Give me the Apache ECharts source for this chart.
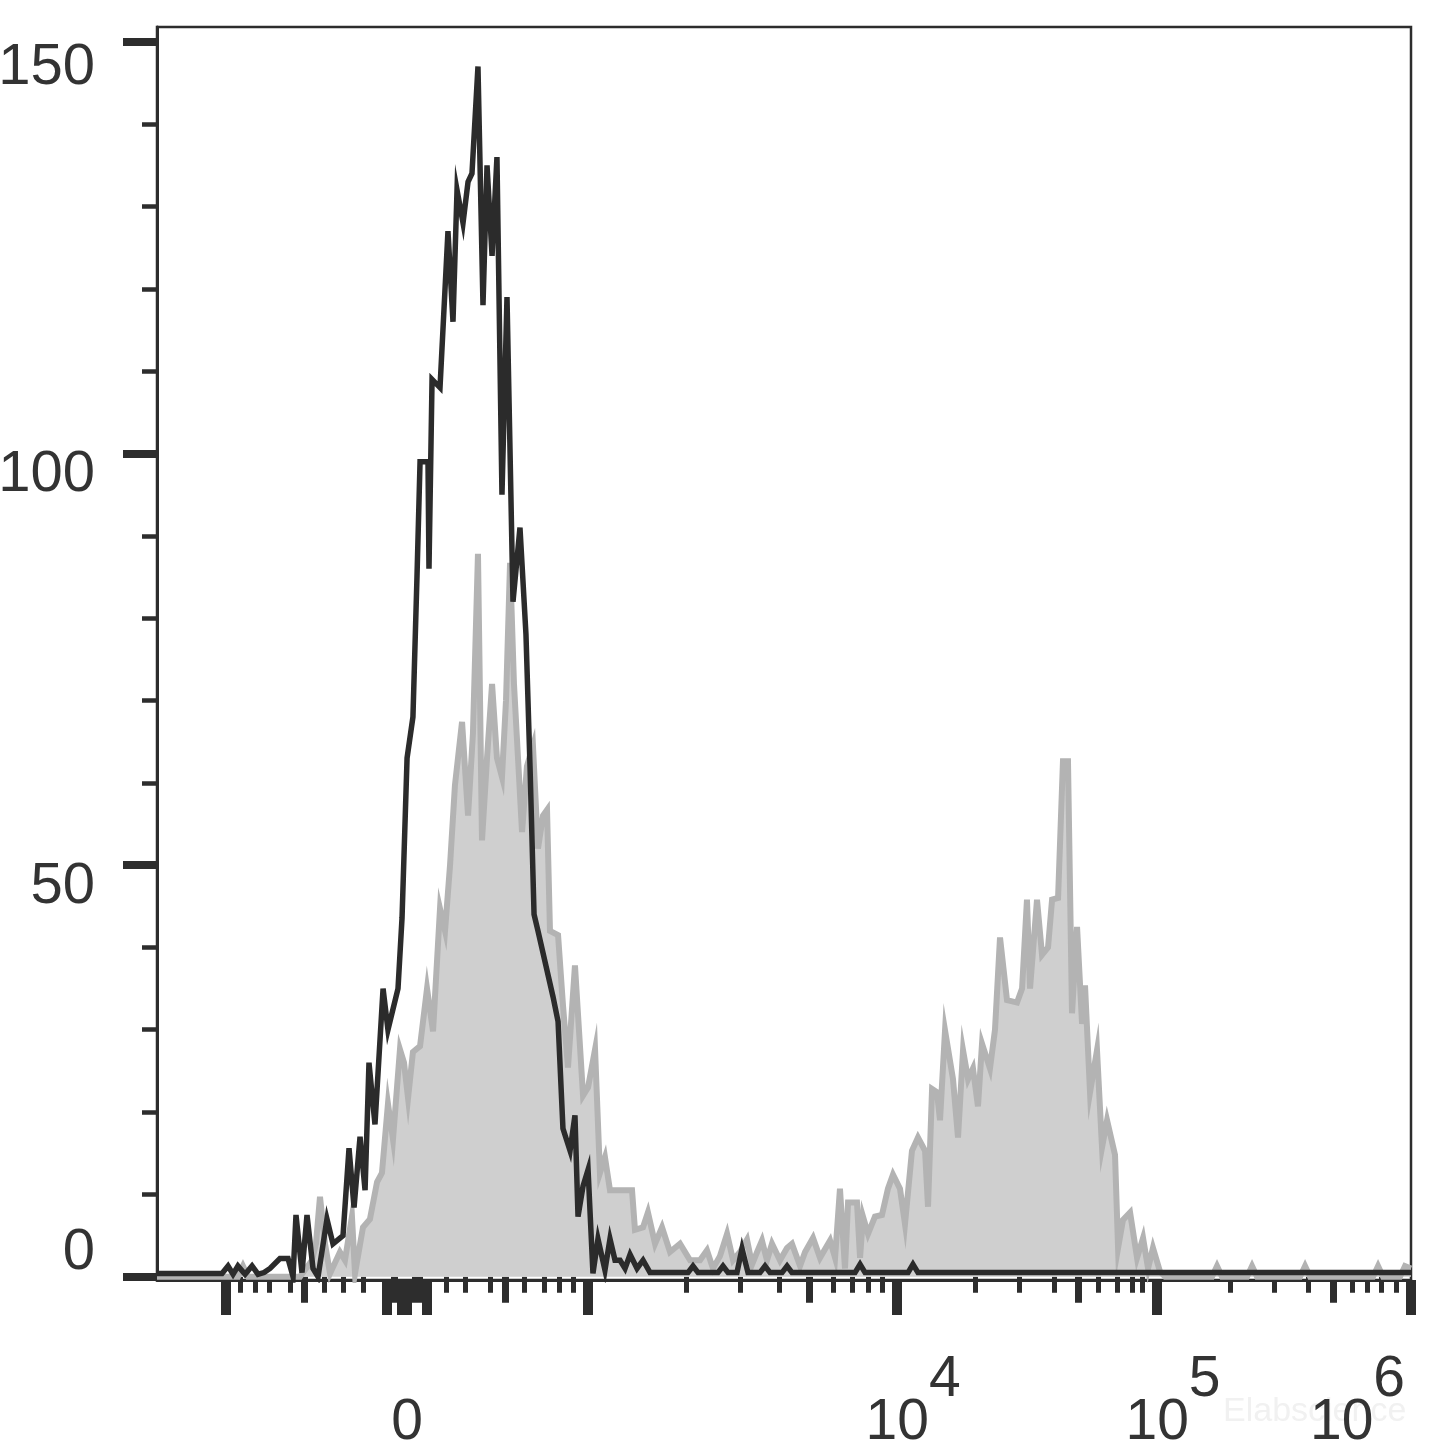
<!DOCTYPE html>
<html><head><meta charset="utf-8">
<script src="https://cdn.jsdelivr.net/npm/echarts@6/dist/echarts.min.js"></script>
<style>html,body{margin:0;padding:0;background:#fff}#chart{width:1445px;height:1453px}</style>
</head><body><div id="chart"></div>
<script>
// Display channel (0..1024 on biexponential scale) and event counts
const grayX = [0,66.1,70.2,74.3,116.8,126.6,129.8,133.1,137.2,141.3,149.4,153.5,159.2,161.7,168.2,173.9,179.7,183.7,188.6,192.7,198.4,201.7,205.0,209.0,214.8,220.5,225.4,231.1,235.2,239.3,243.3,249.1,254.0,258.0,262.1,265.4,269.5,273.6,277.6,281.7,285.0,288.3,291.5,294.8,298.1,302.1,307.0,311.1,315.2,318.5,320.9,327.5,331.5,335.6,341.3,345.4,347.9,352.0,357.7,361.7,365.8,369.9,387.9,390.3,396.9,400.9,406.7,412.4,418.9,427.1,435.3,443.4,449.1,454.0,459.7,465.5,470.4,476.1,481.8,485.9,490.0,494.0,498.1,502.2,508.7,514.5,518.5,525.1,529.2,535.7,541.4,549.6,553.7,557.7,561.8,564.3,571.6,574.1,576.5,580.6,586.3,592.0,596.9,601.0,606.7,610.8,616.5,621.4,627.2,629.6,632.9,636.9,639.4,643.5,650.0,654.1,658.2,662.3,666.3,670.4,673.7,680.2,684.3,688.4,694.1,702.3,706.4,710.4,712.9,718.6,722.7,727.6,730.9,735.8,739.8,743.9,747.2,751.3,755.4,757.8,761.9,767.6,771.7,775.8,782.3,784.8,788.8,794.6,800.3,805.2,809.3,813.3,819.1,823.2,861.5,865.6,869.7,890.1,894.2,898.3,933.4,937.5,941.6,993.0,997.1,1001.2,1015.0,1019.1,1024];
const grayY = [0,0,1.3,0,0,2,4,9.7,4,0.4,3,2,7.3,0.4,6,7,11.5,12.6,21,16.7,27.6,26,21.7,27.3,28,35,29.8,44.7,42,50,59.7,67.4,56,66,87.8,53,63,72,63,60.7,70,86.7,72,63,54,62,64.5,52,56,56.7,42,41.5,33,25.4,37.8,28,22,23,27.6,12.6,14.5,10.5,10.5,5.7,6,7.8,4,6,3,4,2,2,3.2,1,2.5,5.2,2,3,4.5,1.5,3,4.4,2,4,2,3.5,4,1.3,3,4.7,2.3,4.4,2.3,10.7,1,9,9,2.3,7.3,5.2,7.3,7.5,10.7,12.4,10.7,6.4,15.3,16.9,15.3,8.5,22.8,22.4,19,29.9,24,16.9,27.5,24,25.3,20.7,28.3,25.3,30,41.2,33.6,33.3,35,45.8,35,45.8,39.1,40,45.8,46,62.6,62.6,32,42.5,30.7,35.4,22.4,27.5,15.7,19,14.8,3.5,6.9,7.8,2.3,4.7,1,3.5,0.6,0,0,1.3,0,0,1.3,0,0,1.3,0,0,1.3,0,0,1.3,1];

const blackX = [0,53.1,58.0,62.1,66.1,71.9,77.6,82.5,87.4,92.3,100.4,107.0,111.1,113.5,118.4,122.5,127.4,131.5,138.8,143.7,151.9,156.8,160.9,165.8,169.9,173.1,178.0,184.6,188.6,196.8,200.1,204.2,209.0,212.3,214.8,221.3,222.1,224.6,231.1,237.6,241.7,245.0,249.9,254.0,257.2,262.1,266.2,269.5,273.6,277.6,281.7,285.8,290.7,296.4,301.3,304.6,307.9,311.1,323.4,327.5,331.5,337.3,341.3,343.8,347.9,352.0,356.0,360.1,365.8,369.9,374.0,378.1,382.2,386.3,392.0,396.9,402.6,433.6,437.7,441.8,458.1,462.2,466.3,473.6,477.7,482.6,492.4,496.5,500.6,510.4,514.5,518.5,570.0,574.1,578.2,613.3,617.3,621.4,1024];
const blackY = [0.4,0.4,1.3,0.3,1.3,0.3,1.3,0.3,0.5,1,2.2,2.2,0,7.5,0.5,7.5,1,0,7,4,5,15.6,8.4,17,10.5,26,18.5,35,30,35,43.6,63,68,85,99,99,86,109,108,127,116,132,128,133,134,147,118,135,124,136,95,119,82,91,78,62,44,42,34,31,18,15.3,19.6,7.3,11,13,0.4,4.6,0.8,4.6,2,2,1,2.7,1,2,0.5,0.5,1.3,0.5,0.5,1.3,0.5,0.5,3.4,0.5,0.5,1.3,0.5,0.5,1.3,0.5,0.5,1.5,0.5,0.5,1.5,0.5,0.5];

const yMajorTicks = [0, 50, 100, 150];
const yMinorTicks = [10, 20, 30, 40, 60, 70, 80, 90, 110, 120, 130, 140];
const xMajorTicks = [56.3, 187.8, 200.1, 204.2, 220.5, 352.0, 604.3, 816.6, 1024];
const xMediumTicks = [120.0, 193.5, 210.7, 213.9, 284.2, 532.4, 752.1, 960.3];
const xMinorTicks = [67.8, 80.0, 91.5, 108.6, 136.4, 151.9, 168.2, 236.0, 251.5, 271.9, 299.7, 316.0, 328.3, 339.7, 432.0, 476.1, 507.9, 552.0, 567.5, 580.6, 592.0, 668.0, 703.9, 732.5, 768.4, 783.9, 796.2, 804.3, 876.2, 912.1, 939.9, 975.8, 988.1, 999.5, 1011.8];
const xLabelValues = [204.2, 604.3, 816.6, 1024];
const xLabelBase = ['0', '10', '10', '10'];
const xLabelExp = ['', '4', '5', '6'];

const FONT = "'Liberation Sans', Arial, Helvetica, sans-serif";
const INK = '#2d2d2d';
const TXT = '#333333';
const X_MIN = 0, X_MAX = 1024, Y_MIN = -0.4, Y_MAX = 151.8;

function xAxisBase(ticks, len, width) {
  return {
    type: 'value', gridIndex: 0, position: 'bottom', min: X_MIN, max: X_MAX,
    axisLine: { show: false }, splitLine: { show: false },
    axisTick: { show: true, customValues: ticks, length: len, inside: false, lineStyle: { color: INK, width: width } },
    axisLabel: { show: false }
  };
}
const xMain = xAxisBase(xMajorTicks, 35, 10);
xMain.axisLine = { show: true, onZero: false, lineStyle: { color: INK, width: 3 } };
xMain.axisLabel = {
  show: true, customValues: xLabelValues, margin: 71.5, color: TXT, fontFamily: FONT,
  formatter: function (v) {
    const i = xLabelValues.findIndex(t => Math.abs(t - v) < 0.01);
    if (i < 0) return '';
    if (!xLabelExp[i]) return '{b|' + xLabelBase[i] + '}';
    if (i === xLabelValues.length - 1) return '{b|' + xLabelBase[i] + '}{se|' + xLabelExp[i] + '}';
    return '{bp|' + xLabelBase[i] + '}{s|' + xLabelExp[i] + '}';
  },
  rich: {
    b: { fontSize: 57, lineHeight: 144, color: TXT, fontFamily: FONT },
    bp: { fontSize: 57, lineHeight: 144, color: TXT, fontFamily: FONT, padding: [0, 0, 0, 32] },
    s: { fontSize: 57, lineHeight: 15, verticalAlign: 'top', color: TXT, fontFamily: FONT },
    se: { fontSize: 57, lineHeight: 15, verticalAlign: 'top', color: TXT, fontFamily: FONT, padding: [0, 107, 0, 0] }
  }
};

const option = {
  animation: false,
  backgroundColor: '#ffffff',
  grid: { left: 157, right: 34, top: 27, bottom: 173, show: true, borderColor: INK, borderWidth: 2.5, backgroundColor: 'transparent', containLabel: false, outerBoundsMode: 'none' },
  xAxis: [xMain, xAxisBase(xMediumTicks, 26, 7), xAxisBase(xMinorTicks, 16, 5)],
  yAxis: [
    {
      type: 'value', position: 'left', min: Y_MIN, max: Y_MAX,
      axisLine: { show: true, onZero: false, lineStyle: { color: INK, width: 3 } },
      splitLine: { show: false },
      axisTick: { show: true, customValues: yMajorTicks, length: 34, lineStyle: { color: INK, width: 8 } },
      axisLabel: {
        show: true, customValues: yMajorTicks, margin: 62, color: TXT, fontFamily: FONT,
        formatter: function (v) {
          if (v === 150) return '{t|' + v + '}';
          if (v === 0) return '{z|' + v + '}';
          return '{m|' + v + '}';
        },
        rich: {
          t: { fontSize: 58, color: TXT, fontFamily: FONT, padding: [52, 0, 0, 0] },
          m: { fontSize: 58, color: TXT, fontFamily: FONT, padding: [43, 0, 0, 0] },
          z: { fontSize: 58, color: TXT, fontFamily: FONT, padding: [0, 0, 48, 0] }
        }
      }
    },
    {
      type: 'value', position: 'left', min: Y_MIN, max: Y_MAX,
      axisLine: { show: false }, splitLine: { show: false },
      axisTick: { show: true, customValues: yMinorTicks, length: 15, lineStyle: { color: INK, width: 4.5 } },
      axisLabel: { show: false }
    }
  ],
  graphic: [{
    type: 'text', left: 1223, top: 1395, z: -1, silent: true,
    style: { text: 'Elabscience', fontSize: 34, fontFamily: FONT, fill: '#f1f1f1' }
  }],
  series: [
    {
      type: 'line', name: 'stained', xAxisIndex: 0, yAxisIndex: 0,
      data: grayX.map((x, i) => [x, grayY[i]]),
      showSymbol: false, symbol: 'none',
      lineStyle: { color: '#b3b3b3', width: 6, join: 'miter' },
      areaStyle: { color: '#cfcfcf', opacity: 1 },
      z: 2
    },
    {
      type: 'line', name: 'control', xAxisIndex: 0, yAxisIndex: 0,
      data: blackX.map((x, i) => [x, blackY[i]]),
      showSymbol: false, symbol: 'none',
      lineStyle: { color: '#2b2b2b', width: 5.5, join: 'miter' },
      z: 3
    }
  ]
};
const chart = echarts.init(document.getElementById('chart'), null, { renderer: 'canvas' });
chart.setOption(option);
</script>
</body></html>
